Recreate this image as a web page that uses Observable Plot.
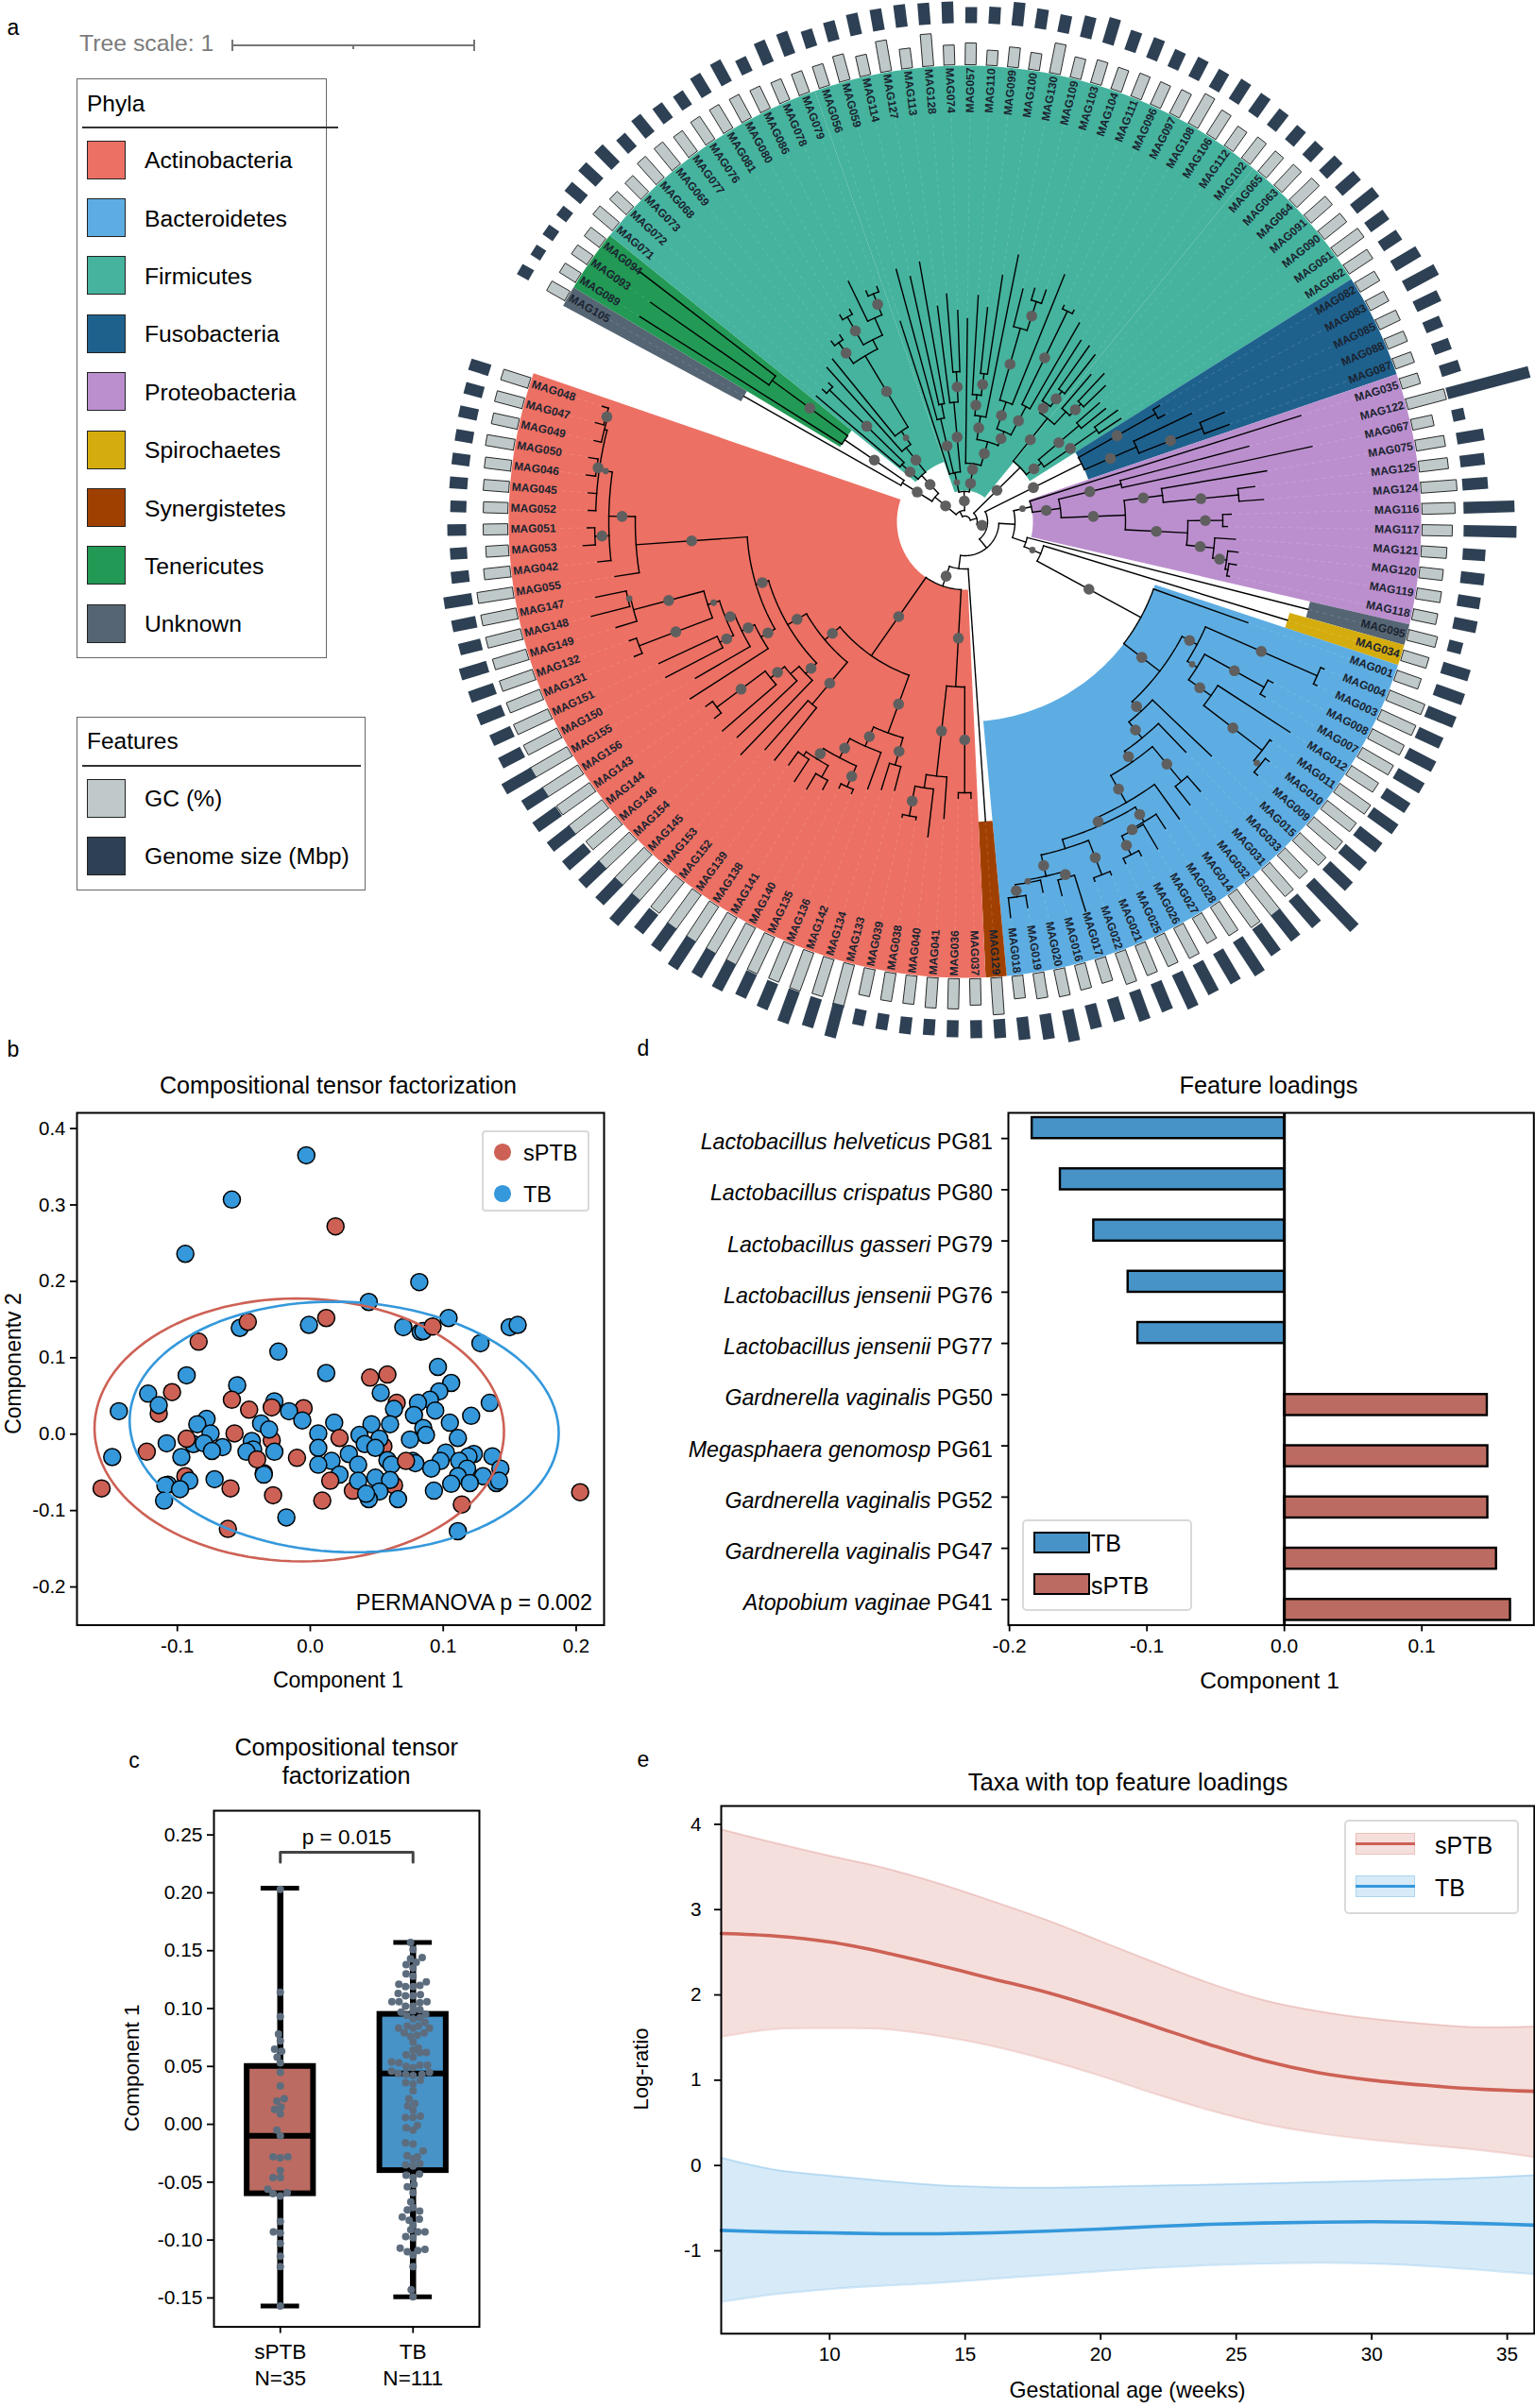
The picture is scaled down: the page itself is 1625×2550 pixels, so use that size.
<!DOCTYPE html>
<html><head><meta charset="utf-8">
<script src="https://cdn.jsdelivr.net/npm/d3@7"></script>
<script src="https://cdn.jsdelivr.net/npm/@observablehq/plot@0.6"></script>
<style>
html,body{margin:0;padding:0;background:#fff}
#fig{position:relative;width:1625px;height:2550px;overflow:hidden;font-family:"Liberation Sans",Arial,sans-serif;color:#000}
#fig svg{position:absolute;overflow:visible}
.t{position:absolute;white-space:nowrap;line-height:1}
.b{position:absolute;box-sizing:border-box}
</style></head><body><div id="fig"></div>
<script>
// ---------- colours ----------
const phylaNames = ["Actinobacteria","Bacteroidetes","Firmicutes","Fusobacteria","Proteobacteria","Spirochaetes","Synergistetes","Tenericutes","Unknown"];
const phylaColors = ["#EC7063","#5DADE2","#45B39D","#1F618D","#BB8FCE","#D4AC0D","#A04000","#229954","#566573"];
const featureNames = ["GC (%)","Genome size (Mbp)"];
const featureColors = ["#BFC9CA","#2E4053"];
const RED="#CD6155", BLUE="#3498DB", BOXRED="#BB6B61", BOXBLUE="#4792C6";

// ---------- panel a: tree, clockwise from MAG105; name:tipDepth, (..)nodeDepth, * large / + small support dot ----------
const cladeLeft="((MAG105:269,(MAG089:407,(MAG093:406,MAG094:435)253*)154*)78*,((MAG071:206,(MAG072:206,MAG073:206)200*)90*,(MAG068:219,(MAG069:222,((MAG077:238,MAG076:238)232*,((MAG081:256,MAG080:256)250*,(MAG086:283,(MAG078:266,MAG079:266)260*)236)216)205*)117+)100*)67*)41*";
const cladeM="(MAG056:223,(MAG059:277,(MAG114:266,MAG127:279)127)112*,(MAG113:230,(MAG128:242,MAG074:224)159*)127*)53+";
const cladeQ="(((MAG110:240,(MAG099:228,MAG100:264)158*)135*,MAG130:288)113*,(((MAG109:254,(MAG103:258,MAG104:260)245*)213*,MAG111:282)134*,((MAG096:252,MAG097:252)248*,MAG108:243)138*)104*)88*";
const cladeN="((MAG057:215,"+cladeQ+")62*)50*";
const cladeMid="("+cladeM+","+cladeN+")32*";
const cladeFR="(((MAG106:228,(MAG112:228,MAG102:224)172*)152*,(MAG065:205,(MAG063:215,MAG064:207)175*)158)140*,((MAG091:190,MAG090:191)158*,(MAG061:200,MAG062:198)170*)102*)82*";
const cladeFuso="((MAG082:240,MAG083:240)232*,(MAG085:266,(MAG088:298,MAG087:298)270*)198*)138*";
const cladeProteo="(MAG035:373,((MAG122:311,MAG067:376)170*,((MAG075:324,(MAG125:309,MAG124:317)291*)211*,((MAG116:282,MAG117:278)273*,(MAG121:287,(MAG120:291,(MAG119:291,MAG118:286)283)280*)265*)236*)170*)102*)72+";
const cladeTail="((MAG028:388,(MAG027:402,(MAG026:400,MAG025:400)394*)372*)370*,((MAG021:405,MAG022:405)401*,((MAG017:432,MAG016:409)392*,(MAG020:401,(MAG019:414,MAG018:422)401*)388+)385*)362)352*";
const cladeBact="(MAG001:318,(((MAG004:411,MAG003:411)407*,((MAG008:368,MAG007:368)362*,(MAG012:410,(MAG011:399,(MAG010:410,MAG009:410)405+)397*)319*)290+)278*,(MAG015:360,(MAG033:338,((MAG031:379,MAG032:383)358*,(MAG014:388,"+cladeTail+")343*)310*)296*)274*)260*)212*";
const cladeLow="((MAG037:293,MAG036:293)287*,(MAG041:315,(MAG040:336,(MAG038:320,MAG039:320)317*)285)271*)175*";
const cladeR238="((MAG133:294,MAG134:297)268*,(MAG142:301,((MAG136:312,MAG135:312)307*,((MAG140:321,MAG141:329)310,(MAG138:329,MAG139:318)301)296*)283*)260*)238*";
const cladeLL="(MAG145:342,(MAG154:332,(MAG146:339,(MAG144:337,MAG143:337)328*)264*)245)233*";
const clade248="(MAG156:346,(MAG155:330,((MAG150:357,MAG151:357)289*,((MAG131:378,MAG132:377)369*,(MAG149:386,(MAG148:408,MAG147:399)366+)363*)286+)273*)263*)248*";
const cladeTop="(MAG055:375,(MAG042:391,(MAG053:405,MAG051:400)392*,(MAG052:399,MAG045:400,(MAG046:404,MAG050:404)394*,(MAG049:402,(MAG047:405,MAG048:403)396*)394)391+)377*)349*";
const cladeR194="((MAG152:323,MAG153:321)252*,("+cladeLL+",("+clade248+","+cladeTop+")231*)217*)194*";
const cladeActino="("+cladeLow+",("+cladeR238+","+cladeR194+")173*)72*";
const treeText="(("+cladeLeft+","+cladeMid+")12,("+cladeFR+",("+cladeFuso+",(("+cladeProteo+",(MAG095:375,(MAG034:357,"+cladeBact+")87+)68)53,(MAG129:318,"+cladeActino+")50)36)24*)13)6";

// bar values per leaf in tree order (bar units)
const gcPct=[22,20,20,20,27,24,24,30,30,27,29,29,28,26,24,24,24,28,22,33,21,34,21,23,16,21,18,32,22,25,24,26,26,28,36,30,25,28,28,30,33,30,30,35,30,24,22,24,22,21,20,42,23,31,31,38,35,32,27,25,26,26,31,28,27,40,40,38,38,34,40,39,40,38,34,38,45,42,36,31,36,34,34,35,26,27,29,27,24,39,28,32,32,30,30,29,47,41,43,42,43,44,44,45,46,42,48,47,46,41,46,43,46,46,40,40,38,37,37,38,38,38,28,24,26,26,27,28,30,28,30,30];
const genomeMbp=[14,12,13,13,22,25,26,19,24,20,18,24,26,17,25,25,19,21,23,23,24,23,23,17,18,25,21,19,23,28,22,23,20,23,22,25,24,22,20,20,23,26,30,24,23,31,38,28,19,19,21,90,13,29,26,27,54,56,24,25,24,25,15,30,32,32,28,32,32,30,32,30,30,33,68,38,35,35,43,37,36,40,32,33,25,26,34,27,24,20,19,18,17,18,17,17,36,32,36,30,28,32,30,36,30,26,36,30,30,30,30,30,27,36,26,24,28,28,30,24,26,30,19,18,20,17,19,19,19,20,20,22];
// wedge ranges: phylum index, first leaf, last leaf, inner depth
const wedges=[[8,0,0,269],[7,1,3,154],[2,4,15,67],[2,16,37,33],[2,38,44,81],[3,45,49,138],[4,50,61,72],[8,62,62,375],[5,63,63,357],[1,64,88,212],[6,89,89,318],[0,90,131,72]];
const START=299.6, STEP=2.657, RIM=483, GC0=484, GS0=528;

// ---------- panel b ----------
const sptbUnder=[[-.114,.027],[.065,.041],[-.005,.034],[-.029,-.008],[-.094,-.055],[.032,-.074],[.055,-.016],[.063,-.067]];
const tbPts=[[-.003,.365],[-.059,.307],[-.094,.236],[.082,.199],[.044,.173],[.104,.152],[.15,.14],[.156,.143],[.07,.14],[.083,.134],[.085,.135],[-.001,.143],[-.053,.139],[-.024,.108],[.128,.119],[-.093,.077],[.096,.088],[.012,.08],[-.055,.064],[.106,.067],[.097,.056],[-.122,.053],[-.114,.038],[.053,.054],[.09,.045],[.081,.041],[.135,.041],[-.144,.03],[-.027,.043],[.063,.033],[-.016,.03],[.094,.031],[.078,.025],[.121,.024],[-.006,.018],[-.078,.02],[-.085,.013],[.018,.015],[-.037,.014],[.105,.015],[.06,.013],[.046,.013],[-.031,.006],[-.075,.001],[.006,.001],[.037,-.001],[.085,.008],[.087,-.001],[.075,-.007],[.111,-.005],[.052,-.006],[-.044,-.009],[-.108,-.012],[.041,-.013],[-.088,-.013],[-.08,-.012],[-.066,-.017],[.049,-.018],[.006,-.018],[-.043,-.02],[-.074,-.022],[-.048,-.023],[-.027,-.023],[.029,-.026],[-.097,-.03],[-.149,-.03],[.058,-.034],[.102,-.024],[.123,-.026],[.119,-.029],[.137,-.029],[.077,-.035],[.079,-.038],[.061,-.04],[.112,-.035],[.098,-.035],[.016,-.035],[.036,-.04],[.006,-.04],[.118,-.045],[.143,-.045],[.091,-.045],[.13,-.055],[-.035,-.051],[-.035,-.053],[.022,-.053],[.111,-.055],[.049,-.057],[.06,-.06],[-.091,-.061],[-.072,-.059],[.036,-.061],[.106,-.065],[.12,-.064],[.14,-.064],[.142,-.061],[-.107,-.066],[-.109,-.067],[.052,-.075],[-.098,-.072],[.093,-.074],[.044,-.085],[.042,-.078],[.066,-.085],[-.11,-.087],[-.018,-.109],[.111,-.127]];
const sptbOver=[[.019,.272],[.203,-.076],[-.157,-.071],[-.123,-.023],[-.104,.055],[-.084,.121],[-.047,.147],[.012,.152],[.092,.141],[.045,.074],[.058,.078],[-.059,.045],[-.046,.032],[-.029,.035],[-.057,.001],[-.093,-.006],[.022,-.005],[-.01,-.031],[-.04,-.033],[.072,-.035],[-.06,-.071],[-.028,-.08],[.015,-.061],[.009,-.087],[.114,-.092],[-.062,-.124]];
// ellipse: centre x, centre y, radius x, radius y, skew
const ellipseSPTB=[-.0083,.0055,.154,.172,-.002];
const ellipseTB=[.0255,.0094,.1612,.164,-.008];

// ---------- panel c ----------
const groupNames=["sPTB\nN=35","TB\nN=111"];
// whisker low, q1, median, q3, whisker high
const boxSPTB=[-.157,-.06,-.01,.05,.204];
const boxTB=[-.149,-.04,.044,.095,.157];
const swarmSPTB=[[0,.203],[0,.114],[0,.093],[-.014,.078],[0,.072],[-.043,.065],[.01,.063],[-.024,.058],[0,.053],[0,.045],[0,.033],[.029,.022],[-.026,.02],[.005,.015],[-.043,.013],[0,.009],[-.026,-.005],[0,-.01],[-.055,-.028],[0,-.029],[.057,-.028],[0,-.04],[-.055,-.046],[0,-.046],[-.095,-.056],[-.055,-.06],[0,-.062],[.052,-.059],[0,-.084],[-.052,-.093],[0,-.094],[0,-.103],[0,-.114],[0,-.123],[0,-.157]];
const swarmTB=[[-.019,.157],[0,.151],[.069,.144],[-.019,.143],[.024,.14],[-.052,.138],[0,.135],[-.052,.13],[0,.128],[.1,.123],[-.107,.121],[-.057,.119],[0,.119],[.052,.12],[-.112,.113],[-.057,.111],[0,.111],[.055,.112],[-.159,.106],[-.105,.106],[-.057,.102],[0,.102],[.052,.105],[.105,.106],[-.09,.097],[0,.098],[.052,.099],[-.048,.094],[0,.091],[.095,.095],[.052,.092],[.09,.088],[-.043,.085],[.04,.085],[-.109,.083],[.124,.083],[0,.083],[-.066,.079],[.083,.079],[.031,.077],[-.019,.076],[0,.071],[.04,.066],[0,.064],[.052,.062],[.1,.062],[-.052,.06],[0,.058],[-.162,.054],[-.107,.053],[-.052,.05],[0,.049],[.052,.051],[.109,.051],[-.162,.046],[-.112,.044],[-.055,.043],[0,.042],[.067,.043],[.124,.045],[-.055,.036],[0,.035],[.055,.038],[0,.029],[-.031,.022],[.014,.018],[-.04,.016],[0,.012],[-.057,.006],[0,.006],[.055,.007],[.033,-.001],[-.052,-.003],[0,-.005],[-.057,-.016],[0,-.017],[.076,-.023],[-.045,-.027],[.033,-.028],[0,-.03],[.052,-.034],[-.055,-.035],[0,-.036],[-.052,-.044],[.048,-.043],[0,-.046],[.007,-.052],[-.043,-.054],[0,-.059],[-.017,-.067],[0,-.072],[-.043,-.074],[.05,-.075],[-.081,-.08],[-.029,-.083],[.048,-.082],[0,-.087],[-.017,-.091],[.036,-.093],[.09,-.093],[-.055,-.097],[0,-.098],[-.097,-.107],[-.043,-.11],[.036,-.109],[.09,-.108],[0,-.113],[0,-.123],[-.014,-.143],[0,-.149]];

// ---------- panel d ----------
const taxa=["Lactobacillus helveticus","Lactobacillus crispatus","Lactobacillus gasseri","Lactobacillus jensenii","Lactobacillus jensenii","Gardnerella vaginalis","Megasphaera genomosp","Gardnerella vaginalis","Gardnerella vaginalis","Atopobium vaginae"];
const codes=["PG81","PG80","PG79","PG76","PG77","PG50","PG61","PG52","PG47","PG41"];
const loadings=[-.1835,-.163,-.1387,-.1137,-.1066,.1476,.148,.148,.1543,.1645];

// ---------- panel e ----------
const weeks=[6,8,10,12,14,16,18,20,22,24,26,28,30,32,34,36];
const sptbMean=[2.72,2.69,2.62,2.5,2.35,2.19,2.03,1.84,1.63,1.42,1.23,1.09,1,.94,.895,.87];
const sptbHigh=[3.94,3.78,3.63,3.49,3.31,3.1,2.88,2.63,2.38,2.14,1.94,1.81,1.72,1.66,1.62,1.63];
const sptbLow=[1.51,1.6,1.61,1.6,1.52,1.4,1.24,1.05,.84,.65,.49,.38,.3,.24,.18,.1];
const tbMean=[-.76,-.78,-.79,-.8,-.8,-.79,-.77,-.745,-.715,-.69,-.675,-.665,-.66,-.665,-.68,-.7];
const tbHigh=[.09,-.05,-.12,-.18,-.23,-.255,-.26,-.25,-.235,-.225,-.21,-.195,-.18,-.165,-.145,-.115];
const tbLow=[-1.6,-1.51,-1.45,-1.41,-1.375,-1.33,-1.285,-1.24,-1.2,-1.17,-1.15,-1.14,-1.15,-1.18,-1.225,-1.275];

// ---------- helpers ----------
const fig=document.getElementById("fig");
const FONT='"Liberation Sans",Arial,sans-serif';
function txt(s,x,y,o={}){const d=document.createElement("div");d.className="t";
  const a=o.anchor||"middle",tx=a==="middle"?"-50%":a==="end"?"-100%":"0";
  d.style.left=x+"px";d.style.top=y+"px";d.style.fontSize=(o.size||22)+"px";d.style.color=o.color||"#000";
  d.style.transform=`translate(${tx},-50%)`+(o.rot?` rotate(${o.rot}deg)`:"");
  if(o.html)d.innerHTML=s;else d.textContent=s;fig.appendChild(d);return d;}
function box(x,y,w,h,css={}){const d=document.createElement("div");d.className="b";
  Object.assign(d.style,{left:x+"px",top:y+"px",width:w+"px",height:h+"px"},css);fig.appendChild(d);return d;}
function panel(opts,x0,x1,y0,y1,m){
  const [l,t,r,b]=m;
  const svg=Plot.plot({width:x1-x0+l+r,height:y1-y0+t+b,marginLeft:l,marginTop:t,marginRight:r,marginBottom:b,
    style:{background:"transparent",fontFamily:FONT,fontSize:(opts.fs||21)+"px",color:"#000"},...opts});
  svg.style.left=(x0-l)+"px";svg.style.top=(y0-t)+"px";fig.appendChild(svg);return svg;}
const minus=(f)=>d=>(d<0?"-":"")+Math.abs(d).toFixed(f);

// ---------- panel a ----------
function parseTree(s){let p=0;
  const num=()=>{const m=/^[0-9.]+/.exec(s.slice(p));p+=m[0].length;return +m[0];};
  const mark=(n)=>{if(s[p]==="*"||s[p]==="+"){n.dot=s[p];p++;}};
  function node(){const n={children:[]};
    if(s[p]==="("){p++;do{n.children.push(node());}while(s[p++]===",");n.r=num();mark(n);}
    else{const q=s.indexOf(":",p);n.name=s.slice(p,q);p=q+1;n.r=num();mark(n);}
    return n;}
  return node();}
const tree=parseTree(treeText);
const leaves=[];
(function layout(n){if(!n.children.length){n.t=START+STEP*leaves.length;leaves.push(n);return;}
  n.children.forEach(layout);n.t=(n.children[0].t+n.children[n.children.length-1].t)/2;})(tree);
const pol=(r,t)=>({x:r*Math.sin(t*Math.PI/180),y:-r*Math.cos(t*Math.PI/180)});
const thetaOf=i=>START+STEP*i;
const branches=[],dots=[];let sid=0;
(function walk(n,parent){
  if(parent){const id=sid++;branches.push({id,...pol(parent.r,n.t)},{id,...pol(n.r,n.t)});
    if(n.dot)dots.push({...pol((parent.r+n.r)/2,n.t),s:n.dot==="*"?5.8:3.4});}
  if(n.children.length>1){const id=sid++,a=n.children[0].t,b=n.children[n.children.length-1].t;
    for(let k=0,K=Math.max(2,Math.ceil((b-a)/1.5));k<=K;k++)branches.push({id,...pol(n.r,a+(b-a)*k/K)});}
  n.children.forEach(c=>walk(c,n));})(tree,null);
const wedgePts=wedges.flatMap(([ph,i0,i1,r],id)=>{
  const a=thetaOf(i0)-STEP/2,b=thetaOf(i1)+STEP/2,K=Math.ceil((b-a)/1)+1,pts=[];
  for(let k=0;k<=K;k++)pts.push({id,c:phylaColors[ph],...pol(RIM,a+(b-a)*k/K)});
  for(let k=K;k>=0;k--)pts.push({id,c:phylaColors[ph],...pol(r,a+(b-a)*k/K)});
  return pts;});
function barRect(i,r0,r1,hw){const t=thetaOf(i)*Math.PI/180,u=[Math.sin(t),-Math.cos(t)],v=[Math.cos(t),Math.sin(t)];
  const c=(r,w)=>({id:i,x:u[0]*r+v[0]*w,y:u[1]*r+v[1]*w});
  return [c(r0,-hw),c(r1,-hw),c(r1,hw),c(r0,hw),c(r0,-hw)];}
const gcBars=gcPct.flatMap((v,i)=>barRect(i,GC0,GC0+v,5.8));
const gsBars=genomeMbp.flatMap((v,i)=>barRect(i,GS0,GS0+v,6.2));
const labelData=leaves.map((n,i)=>{const t=thetaOf(i)%360;return {name:n.name,t,...pol(481,t),tip:n.r,
  leadX:pol(n.r,t).x,leadY:pol(n.r,t).y,endX:pol(433,t).x,endY:pol(433,t).y,
  rot:t<180?t-90:t-270,right:t<180};});
const labelOpts={x:"x",y:"y",text:"name",rotate:"rot",fontSize:12,fontWeight:"bold",fill:"#1b2431",lineAnchor:"middle"};
const svgA=Plot.plot({width:1625,height:1100,margin:0,axis:null,
  x:{domain:[-1021,604],range:[0,1625]},y:{domain:[-552,548],range:[0,1100]},
  style:{background:"transparent",fontFamily:FONT},
  marks:[
    Plot.line(wedgePts,{x:"x",y:"y",z:"id",fill:"c",stroke:"none"}),
    Plot.link(labelData.filter(d=>d.tip<433),{x1:"leadX",y1:"leadY",x2:"endX",y2:"endY",stroke:"#fff",strokeOpacity:.15,strokeWidth:1,strokeDasharray:"4,4"}),
    Plot.line(branches,{x:"x",y:"y",z:"id",stroke:"#000",strokeWidth:1.4,strokeLinecap:"square"}),
    Plot.dot(dots,{x:"x",y:"y",r:"s",fill:"#5f5f5f",stroke:"none"}),
    Plot.text(labelData.filter(d=>d.right),{...labelOpts,textAnchor:"end"}),
    Plot.text(labelData.filter(d=>!d.right),{...labelOpts,textAnchor:"start"}),
    Plot.line(gcBars,{x:"x",y:"y",z:"id",fill:featureColors[0],stroke:"#2a2a2a",strokeWidth:1}),
    Plot.line(gsBars,{x:"x",y:"y",z:"id",fill:featureColors[1],stroke:"none"})
  ],r:{type:"identity"}});
svgA.style.left="0";svgA.style.top="0";fig.appendChild(svgA);

txt("a",14,29,{size:23});txt("b",14,1111,{size:23});txt("d",681,1110,{size:23});txt("c",142,1864,{size:23});txt("e",681,1863,{size:23});
txt("Tree scale: 1",84,46,{anchor:"start",size:24.8,color:"#7b7b7b"});
box(245,47,256,2,{background:"#777"});box(244.5,42,2,12,{background:"#777"});box(500.5,42,2,12,{background:"#777"});box(373,47,2,5,{background:"#777"});
const border={border:"1.5px solid #666",background:"#fff"};
box(81,83,265,614,border);
txt("Phyla",92,109.5,{anchor:"start",size:24.5});box(87,134,271,1.5,{background:"#333"});
phylaNames.forEach((n,i)=>{const cy=169+61.4*i;
  box(91.5,cy-20.5,41.5,41,{background:phylaColors[i],border:"1px solid #222"});txt(n,153,cy+1.2,{anchor:"start",size:24.7});});
box(81,759,306,184,border);
txt("Features",92,784.5,{anchor:"start",size:24.5});box(87,810,295,1.5,{background:"#333"});
featureNames.forEach((n,i)=>{const cy=845+61.2*i;
  box(91.5,cy-20.5,41.5,41,{background:featureColors[i],border:"1px solid #222"});txt(n,153,cy+1.2,{anchor:"start",size:24.7});});

// ---------- panel b ----------
function ellipseLine(e){const pts=[];for(let k=0;k<=120;k++){const t=k/120*2*Math.PI;
  pts.push({x:e[0]+e[2]*Math.cos(t)+e[4]*Math.sin(t),y:e[1]+e[3]*Math.sin(t)});}return pts;}
const dotOpts={x:d=>d[0],y:d=>d[1],r:9,stroke:"#000",strokeWidth:1.5};
panel({fs:20.5,x:{domain:[-.1755,.221]},y:{domain:[-.25,.4205]},marks:[
  Plot.axisX({ticks:[-.1,0,.1,.2],tickSize:7,tickPadding:7,tickFormat:minus(1),label:null,strokeWidth:1.8}),
  Plot.axisY({ticks:[-.2,-.1,0,.1,.2,.3,.4],tickSize:7,tickPadding:5,tickFormat:minus(1),label:null,strokeWidth:1.8}),
  Plot.dot(sptbUnder,{...dotOpts,fill:RED}),
  Plot.dot(tbPts,{...dotOpts,fill:BLUE}),
  Plot.dot(sptbOver,{...dotOpts,fill:RED}),
  Plot.line(ellipseLine(ellipseSPTB),{x:"x",y:"y",stroke:RED,strokeWidth:2.6}),
  Plot.line(ellipseLine(ellipseTB),{x:"x",y:"y",stroke:BLUE,strokeWidth:2.6}),
  Plot.frame({stroke:"#000",strokeWidth:2})
]},81,639,1178,1720.5,[81,8,6,60]);
txt("Compositional tensor factorization",358,1150,{size:25.1});
txt("Component 1",358,1779,{size:23});
txt("Componentv 2",14,1444,{size:23,rot:-90});
txt("PERMANOVA p = 0.002",627,1698,{anchor:"end",size:23.3});
box(509.5,1197,114,86,{border:"2.5px solid #d9d9d9",borderRadius:"4px",background:"#fff"});
box(523,1211,17.5,17.5,{background:RED,borderRadius:"50%"});box(523,1255,17.5,17.5,{background:BLUE,borderRadius:"50%"});
txt("sPTB",554,1221.5,{anchor:"start",size:23.5});txt("TB",554,1265.5,{anchor:"start",size:23.5});

// ---------- panel d ----------
const cats=taxa.map((t,i)=>codes[i]+" "+i);
const rowsD=loadings.map((v,i)=>({cat:cats[i],v}));
const svgD=panel({fs:21,x:{domain:[-.2008,.1815]},y:{type:"band",domain:cats,padding:0,round:false},marks:[
  Plot.axisX({ticks:[-.2,-.1,0,.1],tickSize:7,tickPadding:7,tickFormat:minus(1),label:null,strokeWidth:1.8}),
  Plot.axisY({tickSize:7,tickFormat:()=>"",label:null,strokeWidth:1.8}),
  Plot.barX(rowsD.filter(d=>d.v<0),{x1:"v",x2:()=>0,y:"cat",fill:BOXBLUE,stroke:"#000",strokeWidth:2.4,insetTop:5,insetBottom:27}),
  Plot.barX(rowsD.filter(d=>d.v>0),{x1:()=>0,x2:"v",y:"cat",fill:BOXRED,stroke:"#000",strokeWidth:2.4,insetTop:27,insetBottom:5}),
  Plot.ruleX([0],{stroke:"#000",strokeWidth:3}),
  Plot.frame({stroke:"#000",strokeWidth:2})
]},1067.4,1623.7,1178,1720.5,[60,8,1,60]);
const yD=svgD.scale("y");
taxa.forEach((t,i)=>{const b=yD.apply(cats[i]);
  txt(`<i>${t}</i> ${codes[i]}`,1051,1178+b+yD.bandwidth/2-3,{anchor:"end",size:23.2,html:true});});
txt("Feature loadings",1343,1150,{size:25.4});
txt("Component 1",1344,1779.5,{size:24.6});
box(1082,1609,180,97,{border:"2.5px solid #d9d9d9",borderRadius:"5px",background:"#fff"});
box(1094,1622,60,23,{background:BOXBLUE,border:"2.4px solid #000"});
box(1094,1666,60,23,{background:BOXRED,border:"2.4px solid #000"});
txt("TB",1155,1634,{anchor:"start",size:25});txt("sPTB",1155,1679,{anchor:"start",size:25});

// ---------- panel c ----------
function boxMarks(b,c,fill){const [lo,q1,med,q3,hi]=b;return [
  Plot.ruleX([c],{y1:lo,y2:hi,stroke:"#000",strokeWidth:6.5}),
  Plot.ruleY([lo,hi],{x1:c-.145,x2:c+.145,stroke:"#000",strokeWidth:5}),
  Plot.rectY([0],{x1:c-.25,x2:c+.25,y1:q1,y2:q3,fill,stroke:"#000",strokeWidth:6}),
  Plot.ruleY([med],{x1:c-.25,x2:c+.25,stroke:"#000",strokeWidth:6})];}
const sw=(arr,c)=>arr.map(d=>({x:c+d[0],y:d[1]}));
const bracket=[{x:0,y:.2264},{x:0,y:.235},{x:1,y:.235},{x:1,y:.2264}];
panel({fs:21,x:{domain:[-.5,1.5]},y:{domain:[-.175,.2709]},marks:[
  Plot.axisX({ticks:[0,1],tickSize:7,tickPadding:7,tickFormat:d=>groupNames[d],label:null,strokeWidth:1.8,lineHeight:1.25,fontSize:22.6}),
  Plot.axisY({ticks:[-.15,-.1,-.05,0,.05,.1,.15,.2,.25],tickSize:7,tickPadding:5,tickFormat:minus(2),label:null,strokeWidth:1.8}),
  ...boxMarks(boxSPTB,0,BOXRED),...boxMarks(boxTB,1,BOXBLUE),
  Plot.dot(sw(swarmSPTB,0),{x:"x",y:"y",r:4,fill:"#5D6D7E"}),
  Plot.dot(sw(swarmTB,1),{x:"x",y:"y",r:4,fill:"#5D6D7E"}),
  Plot.line(bracket,{x:"x",y:"y",stroke:"#444",strokeWidth:3}),
  Plot.text(["p = 0.015"],{x:[.5],y:[.2475],text:d=>d,fontSize:22.5,textAnchor:"middle",fill:"#000"}),
  Plot.frame({stroke:"#000",strokeWidth:2})
]},226,507,1916.8,2463.4,[80,8,6,80]);
txt("Compositional tensor",366.7,1851,{size:25.2});txt("factorization",366.7,1880.5,{size:25.2});
txt("Component 1",140,2190,{size:22.5,rot:-90});

// ---------- panel e ----------
const rowsE=weeks.map((w,i)=>({w,a:sptbMean[i],ah:sptbHigh[i],al:sptbLow[i],b:tbMean[i],bh:tbHigh[i],bl:tbLow[i]}));
const cv="catmull-rom";
panel({fs:20.7,x:{domain:[6,36]},y:{domain:[-1.972,4.215]},marks:[
  Plot.axisX({ticks:[10,15,20,25,30,35],tickSize:7,tickPadding:7,tickFormat:d=>String(d),label:null,strokeWidth:1.8}),
  Plot.axisY({ticks:[-1,0,1,2,3,4],tickSize:7,tickPadding:14,tickFormat:d=>(d<0?"-":"")+Math.abs(d),label:null,strokeWidth:1.8}),
  Plot.areaY(rowsE,{x:"w",y1:"al",y2:"ah",fill:RED,fillOpacity:.2,curve:cv}),
  Plot.lineY(rowsE,{x:"w",y:"ah",stroke:RED,strokeOpacity:.22,strokeWidth:2,curve:cv}),
  Plot.lineY(rowsE,{x:"w",y:"al",stroke:RED,strokeOpacity:.22,strokeWidth:2,curve:cv}),
  Plot.lineY(rowsE,{x:"w",y:"a",stroke:RED,strokeWidth:3.6,curve:cv}),
  Plot.areaY(rowsE,{x:"w",y1:"bl",y2:"bh",fill:BLUE,fillOpacity:.2,curve:cv}),
  Plot.lineY(rowsE,{x:"w",y:"bh",stroke:BLUE,strokeOpacity:.22,strokeWidth:2,curve:cv}),
  Plot.lineY(rowsE,{x:"w",y:"bl",stroke:BLUE,strokeOpacity:.22,strokeWidth:2,curve:cv}),
  Plot.lineY(rowsE,{x:"w",y:"b",stroke:BLUE,strokeWidth:3.6,curve:cv}),
  Plot.frame({stroke:"#000",strokeWidth:2})
]},763.2,1624,1911.6,2470.4,[60,8,1,60]);
txt("Taxa with top feature loadings",1194,1887.6,{size:25.6});
txt("Gestational age (weeks)",1193.5,2531.6,{size:23.2});
txt("Log-ratio",679,2191,{size:22,rot:-90});
box(1423,1927,185,99.6,{border:"2.5px solid #d9d9d9",borderRadius:"5px",background:"#fff"});
box(1435,1940.5,63,23,{background:"rgba(205,97,85,.2)",border:"1.5px solid rgba(205,97,85,.25)"});
box(1435,1950.5,63,3.4,{background:RED});
box(1435,1986,63,23,{background:"rgba(52,152,219,.2)",border:"1.5px solid rgba(52,152,219,.25)"});
box(1435,1996,63,3.4,{background:BLUE});
txt("sPTB",1519,1954,{anchor:"start",size:25});txt("TB",1519,1999.4,{anchor:"start",size:25});
</script></body></html>
